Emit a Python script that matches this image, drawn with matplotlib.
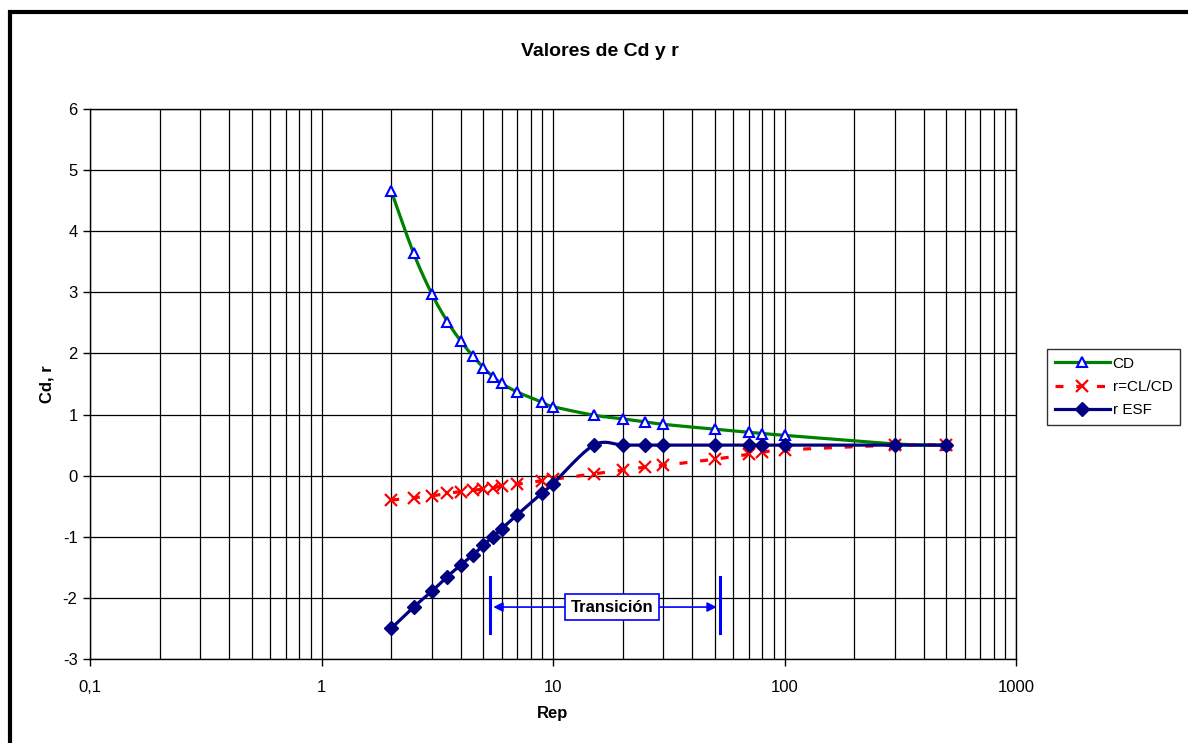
import numpy as np
import matplotlib.pyplot as plt
from matplotlib.patches import Rectangle

plt.rcParams['font.family'] = ['Liberation Sans', 'DejaVu Sans']
plt.rcParams['axes.unicode_minus'] = False

# Reynolds numbers (Rep)
rep = [2, 2.5, 3, 3.5, 4, 4.5, 5, 5.5, 6, 7, 9, 10, 15, 20, 25, 30, 50, 70, 80, 100, 300, 500]
cd = [4.66, 3.64, 2.97, 2.52, 2.20, 1.96, 1.77, 1.62, 1.51, 1.37, 1.20, 1.13,
      0.99, 0.93, 0.88, 0.84, 0.76, 0.71, 0.69, 0.66, 0.52, 0.50]
r_clcd = [-0.40, -0.36, -0.33, -0.29, -0.26, -0.24, -0.22, -0.20, -0.17, -0.14, -0.08, -0.06,
          0.03, 0.09, 0.14, 0.17, 0.27, 0.35, 0.38, 0.42, 0.50, 0.50]
r_esf = [-2.50, -2.15, -1.89, -1.65, -1.46, -1.30, -1.14, -1.00, -0.87, -0.64, -0.28, -0.13,
         0.50, 0.50, 0.50, 0.50, 0.50, 0.50, 0.50, 0.50, 0.50, 0.50]

xtick_vals = [0.1, 1, 10, 100, 1000]
xtick_labels = ['0,1', '1', '10', '100', '1000']
transition = (5.37, 52.4)


def smooth(x, y, n=20, sx=3.79):
    # excel-like smoothed line: bezier through points, in log-x space
    u = np.log10(np.asarray(x, float)) * sx
    v = np.asarray(y, float)
    p = np.column_stack([u, v])
    p = np.vstack([p[0], p, p[-1]])
    out = []
    t = np.linspace(0, 1, n, endpoint=False)[:, None]
    for i in range(1, len(p) - 2):
        p0, p1, p2, p3 = p[i - 1], p[i], p[i + 1], p[i + 2]
        c1 = p1 + (p2 - p0) / 6
        c2 = p2 - (p3 - p1) / 6
        b = ((1 - t) ** 3) * p1 + 3 * ((1 - t) ** 2) * t * c1 + 3 * (1 - t) * t ** 2 * c2 + t ** 3 * p2
        out.append(b)
    out.append(p[-2][None, :])
    out = np.vstack(out)
    return 10 ** (out[:, 0] / sx), out[:, 1]


fig = plt.figure(figsize=(11.88, 7.43), dpi=100)
ax = fig.add_axes([90 / 1188, 1 - 659 / 743, (1016 - 90) / 1188, (659 - 109) / 743])

green = '#008000'
navy = '#000080'

sx, sy = smooth(rep, cd)
ax.plot(sx, sy, color=green, lw=2.3, zorder=3)
ax.plot(rep, cd, ls='none', marker='^', ms=7, mfc='white', mec='#0000ff', mew=1.5, zorder=4)

sx, sy = smooth(rep, r_clcd)
ax.plot(sx, sy, color='#ff0000', lw=2.3, dashes=(2.5, 4), zorder=5)
ax.plot(rep, r_clcd, ls='none', marker='x', ms=9, mec='#ff0000', mew=1.6, zorder=5)

sx, sy = smooth(rep, r_esf)
ax.plot(sx, sy, color=navy, lw=2.3, zorder=6)
ax.plot(rep, r_esf, ls='none', marker='D', ms=7, mfc=navy, mec=navy, zorder=7)

# legend handles
h1, = ax.plot([], [], color=green, lw=2.3, marker='^', ms=7, mfc='white', mec='#0000ff', mew=1.5)
h2, = ax.plot([], [], color='#ff0000', lw=2.3, dashes=(2.5, 4), marker='x', ms=9, mec='#ff0000', mew=1.6)
h3, = ax.plot([], [], color=navy, lw=2.3, marker='D', ms=7, mfc=navy, mec=navy)
leg = fig.legend([h1, h2, h3], ['CD', 'r=CL/CD', 'r ESF'], loc='center left',
                 bbox_to_anchor=(1047 / 1188, 1 - 387 / 743), fontsize=11, frameon=True,
                 fancybox=False, edgecolor='black', handlelength=3.6, borderpad=0.5,
                 labelspacing=0.6, handletextpad=0.2, borderaxespad=0)
leg.get_frame().set_linewidth(1.0)

ax.set_xscale('log')
ax.set_xlim(0.1, 1000)
ax.set_ylim(-3, 6)
ax.set_yticks(range(-3, 7))
ax.set_xticks(xtick_vals)
ax.set_xticklabels(xtick_labels)
ax.xaxis.set_minor_formatter(plt.NullFormatter())
ax.tick_params(which='major', length=5, width=1, labelsize=12, pad=10)
ax.tick_params(axis='y', pad=4)
ax.tick_params(which='minor', length=0)
ax.grid(True, which='both', axis='x', color='black', lw=0.9)
ax.grid(True, which='major', axis='y', color='black', lw=0.9)
ax.set_axisbelow(True)
for s in ax.spines.values():
    s.set_color('black')
    s.set_linewidth(1)

fig.text(600 / 1188, 1 - 52 / 743, 'Valores de Cd y r', fontsize=14, fontweight='bold',
         ha='center', va='center')
ax.set_xlabel('Rep', fontsize=12, fontweight='bold', labelpad=8)
ax.set_ylabel('Cd, r', fontsize=12, fontweight='bold', labelpad=6)

# transition annotation
blue = '#0000ff'
mid = np.sqrt(transition[0] * transition[1])
for xv in transition:
    ax.plot([xv, xv], [-1.66, -2.58], color=blue, lw=2.2, zorder=8)
for xv in transition:
    ax.annotate('', xy=(xv, -2.15), xytext=(mid, -2.15),
                arrowprops=dict(arrowstyle='-|>', color=blue, lw=1.2, mutation_scale=14), zorder=8)
ax.text(mid * 1.07, -2.15, 'Transición', ha='center', va='center',
        fontsize=12, fontweight='bold', zorder=9,
        bbox=dict(boxstyle='square,pad=0.35', fc='white', ec=blue, lw=1.2))

# chart border
fig.patches.append(Rectangle((10 / 1188, -0.2), 1.5, 1.2 - 12 / 743, transform=fig.transFigure,
                             fill=False, ec='black', lw=3, zorder=0))

fig.savefig('out.png', dpi=100)
